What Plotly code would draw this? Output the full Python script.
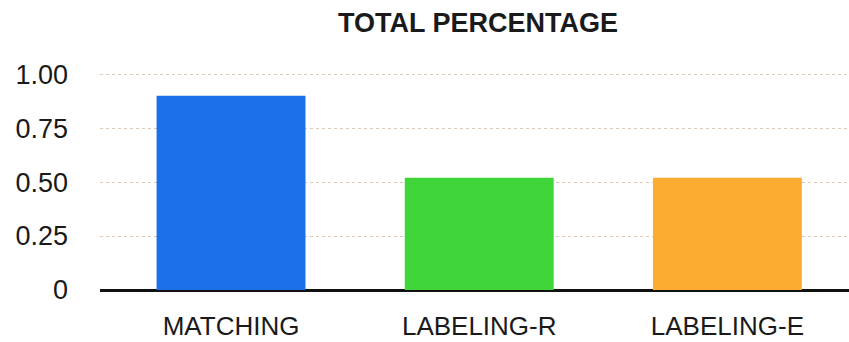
import plotly.graph_objects as go

categories = ["MATCHING", "LABELING-R", "LABELING-E"]
values = [0.90, 0.52, 0.52]
colors = ["#1b6fe8", "#3fd437", "#fcac31"]
tick_vals = [0, 0.25, 0.5, 0.75, 1.0]
tick_text = ["0", "0.25", "0.50", "0.75", "1.00"]

fig = go.Figure(
    go.Bar(
        x=categories,
        y=values,
        marker=dict(color=colors, line=dict(width=0)),
        width=0.6,
    )
)

fig.update_layout(
    width=849,
    height=342,
    margin=dict(l=100, r=0, t=72, b=52),
    paper_bgcolor="white",
    plot_bgcolor="white",
    showlegend=False,
    font=dict(family="Liberation Sans, Arial, sans-serif", color="#1a1a1a"),
    title=dict(
        text="<b>TOTAL PERCENTAGE</b>",
        x=0.563,
        xanchor="center",
        y=0.935,
        yanchor="middle",
        font=dict(size=27, color="#1a1a1a"),
    ),
)

fig.update_xaxes(
    range=[-0.528, 2.49],
    showgrid=False,
    showline=False,
    zeroline=False,
    tickfont=dict(size=26, color="#1a1a1a"),
    ticklabelstandoff=18,
)

fig.update_yaxes(
    range=[0, 1.01],
    tickvals=tick_vals,
    ticktext=tick_text,
    showgrid=True,
    gridcolor="#dcc8b6",
    griddash="dot",
    gridwidth=1,
    zeroline=True,
    zerolinecolor="#111111",
    zerolinewidth=3,
    tickfont=dict(size=27, color="#1a1a1a"),
    ticklabelstandoff=31,
)

fig.write_html("out.html")
